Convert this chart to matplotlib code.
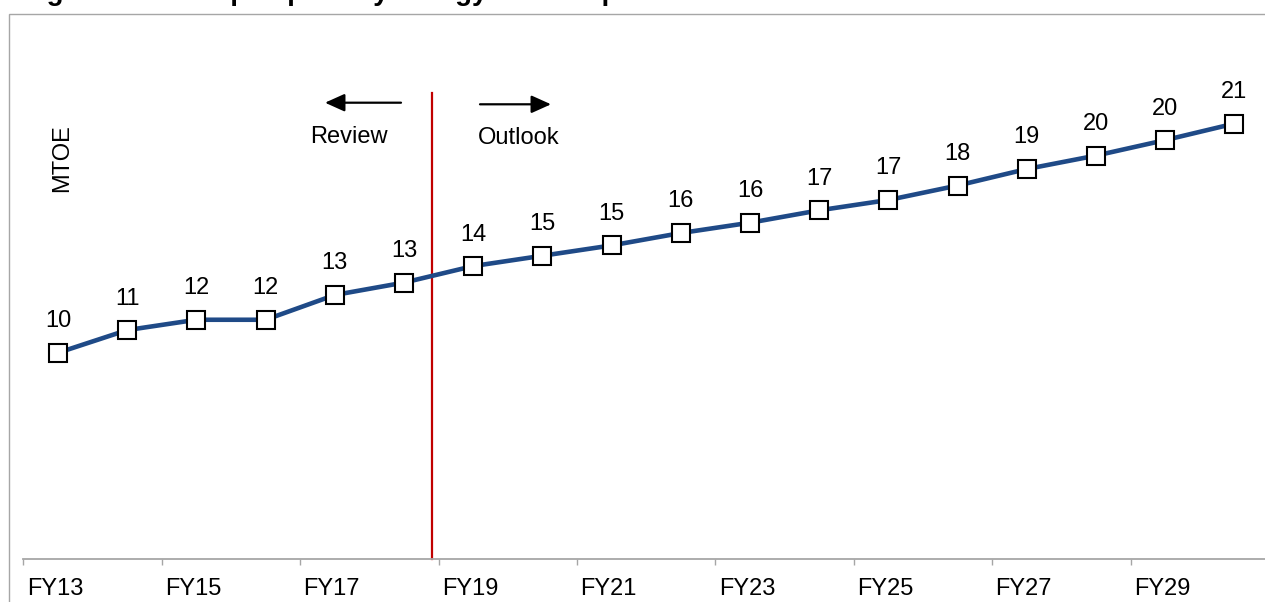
import matplotlib
matplotlib.use("Agg")
import matplotlib.pyplot as plt
from matplotlib.patches import Rectangle

plt.rcParams["font.family"] = ["Liberation Sans", "DejaVu Sans"]

# ---- data ----
years = ["FY13", "FY14", "FY15", "FY16", "FY17", "FY18", "FY19", "FY20", "FY21",
         "FY22", "FY23", "FY24", "FY25", "FY26", "FY27", "FY28", "FY29", "FY30"]
mtoe = [10.0, 11.1, 11.6, 11.6, 12.8, 13.4, 14.2, 14.7, 15.2,
        15.8, 16.3, 16.9, 17.4, 18.1, 18.9, 19.55, 20.3, 21.1]
shown_ticks = ["FY13", "FY15", "FY17", "FY19", "FY21", "FY23", "FY25", "FY27", "FY29"]
title = "Figure 6: Per capita primary energy consumption"
y_label = "MTOE"
left_note = "Review"
right_note = "Outlook"

W, H = 1265, 602
fig = plt.figure(figsize=(W / 100, H / 100), dpi=100)
fig.patch.set_facecolor("white")

def fx(px):
    return px / W

def fy(py):
    return 1 - py / H

# outer chart frame (extends beyond image right/bottom)
fig.patches.append(Rectangle((fx(9), -0.2), 2.0, fy(14) + 0.2, transform=fig.transFigure,
                             fill=False, edgecolor="#A6A6A6", linewidth=1.0, zorder=0))

# axes
ax_left, ax_bottom_px, cat_w = 23.4, 559.3, 69.2
ax_w = 18 * cat_w
ymax = 25
ax_h = ymax * 20.65
ax = fig.add_axes([fx(ax_left), (H - ax_bottom_px) / H, ax_w / W, ax_h / H])
ax.set_facecolor("none")

x = list(range(len(years)))
ax.plot(x, mtoe, color="#1F4A87", linewidth=3.3, marker="s", markersize=12.6,
        markerfacecolor="white", markeredgecolor="black", markeredgewidth=1.5,
        zorder=3, clip_on=False)

for xi, v in zip(x, mtoe):
    ax.annotate(f"{v:.0f}", xy=(xi, v), xytext=(0, 18.4), textcoords="offset points",
                ha="center", va="baseline", fontsize=17, color="black")

ax.set_xlim(-0.5, len(years) - 0.5)
ax.set_ylim(0, ymax)
for s in ["left", "right", "top"]:
    ax.spines[s].set_visible(False)
ax.spines["bottom"].set_color("#A6A6A6")
ax.spines["bottom"].set_linewidth(1.3)
ax.set_yticks([])

tick_pos = [years.index(t) - 0.5 for t in shown_ticks] + [len(years) - 0.5]
ax.set_xticks(tick_pos)
ax.set_xticklabels([""] * len(tick_pos))
ax.tick_params(axis="x", direction="out", length=4.2, width=1.0, color="#A6A6A6")

for t in shown_ticks:
    ax.annotate(t, xy=(years.index(t) - 0.5, 0), xycoords=("data", "axes fraction"),
                xytext=(2.4, -26.0), textcoords="offset points",
                ha="left", va="baseline", fontsize=17, color="black")

# divider line between review and outlook
ax.plot([5.4, 5.4], [0, 22.6], color="#C00000", linewidth=1.6, zorder=2, clip_on=False)

# arrows
ax.annotate("", xy=(fx(325), fy(102.7)), xytext=(fx(401), fy(102.7)),
            xycoords="figure fraction", textcoords="figure fraction",
            arrowprops=dict(arrowstyle="-|>,head_length=12,head_width=5.4", mutation_scale=1,
                            color="black", linewidth=1.6, shrinkA=0, shrinkB=0))
ax.annotate("", xy=(fx(551), fy(104.3)), xytext=(fx(480), fy(104.3)),
            xycoords="figure fraction", textcoords="figure fraction",
            arrowprops=dict(arrowstyle="-|>,head_length=12,head_width=5.4", mutation_scale=1,
                            color="black", linewidth=1.6, shrinkA=0, shrinkB=0))

fig.text(fx(348.7), fy(142.7), left_note, ha="center", va="baseline", fontsize=17)
fig.text(fx(518.5), fy(144), right_note, ha="center", va="baseline", fontsize=17)
fig.text(fx(62), fy(158), y_label, ha="center", va="center", rotation=90, fontsize=17)

# title (cut off at the top of the image in the reference, only descenders visible)
fig.text(fx(22), fy(-0.5), title, ha="left", va="baseline", fontsize=20, fontweight="bold")

fig.savefig("out.png", dpi=100)
